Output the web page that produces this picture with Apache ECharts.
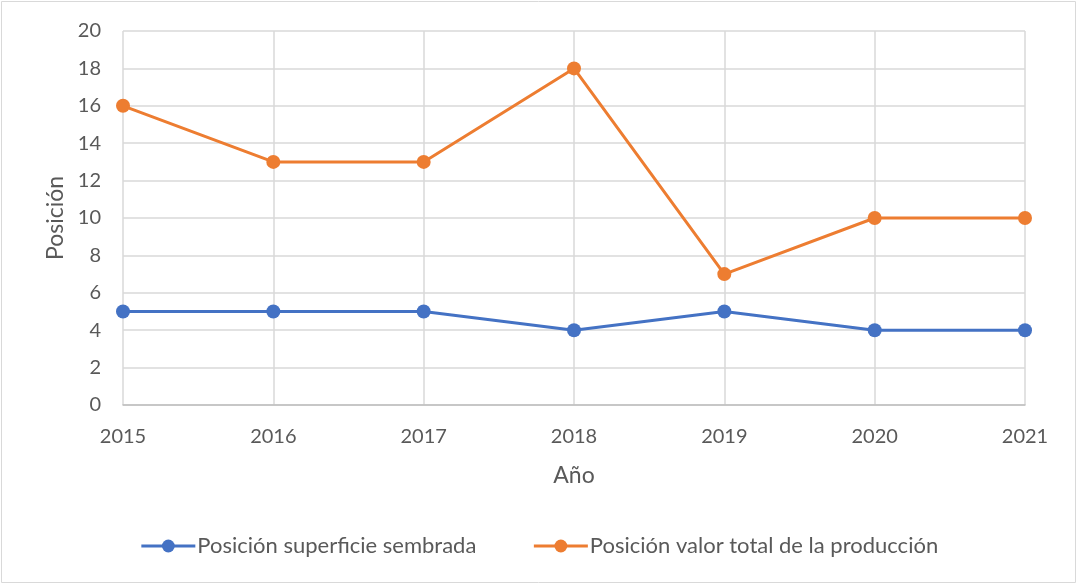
<!DOCTYPE html>
<html>
<head>
<meta charset="utf-8">
<script src="https://cdn.jsdelivr.net/npm/echarts@6/dist/echarts.min.js"></script>
<style>
  html, body { margin: 0; padding: 0; background: #fff; }
  #chart { width: 1078px; height: 586px; }
</style>
</head>
<body>
<div id="chart"></div>
<script>
const years = ['2015', '2016', '2017', '2018', '2019', '2020', '2021']
const superficie = [5, 5, 5, 4, 5, 4, 4]
const valorTotal = [16, 13, 13, 18, 7, 10, 10]
const seriesNames = ['Posición superficie sembrada', 'Posición valor total de la producción']

const font = 'Lato, "Open Sans", sans-serif'
const textColor = '#595959'

const chart = echarts.init(document.getElementById('chart'))

const lineSeries = (name, data, color) => ({
  name: name,
  type: 'line',
  data: data,
  symbol: 'circle',
  symbolSize: 14,
  color: color,
  lineStyle: { width: 3, color: color },
  itemStyle: { color: color },
})

chart.setOption({
  animation: false,
  textStyle: { fontFamily: font },
  graphic: [
    {
      type: 'rect',
      shape: { x: 1.5, y: 1.5, width: 1074, height: 581 },
      style: { fill: 'none', stroke: '#d9d9d9', lineWidth: 1 },
      silent: true,
    },
  ],
  grid: {
    left: 123,
    right: 53,
    top: 31,
    bottom: 181,
  },
  legend: {
    bottom: 24,
    left: 'center',
    itemWidth: 54,
    itemHeight: 16,
    itemGap: 56,
    lineStyle: { width: 3 },
    textStyle: { fontFamily: font, fontSize: 22, color: textColor, padding: [0, 0, 0, -3] },
    data: seriesNames,
  },
  xAxis: {
    type: 'category',
    data: years,
    boundaryGap: false,
    name: 'Año',
    nameLocation: 'middle',
    nameGap: 59,
    nameTextStyle: { fontFamily: font, fontSize: 23, color: textColor },
    axisLine: { lineStyle: { color: '#bfbfbf', width: 1.5 } },
    axisTick: { show: false },
    axisLabel: { fontFamily: font, fontSize: 20, color: textColor, margin: 22 },
    splitLine: { show: true, lineStyle: { color: '#d9d9d9', width: 1.5 } },
  },
  yAxis: {
    type: 'value',
    min: 0,
    max: 20,
    interval: 2,
    name: 'Posición',
    nameLocation: 'middle',
    nameGap: 56,
    nameTextStyle: { fontFamily: font, fontSize: 23, color: textColor },
    axisLine: { show: false },
    axisTick: { show: false },
    axisLabel: { fontFamily: font, fontSize: 20, color: textColor, margin: 22 },
    splitLine: { lineStyle: { color: '#d9d9d9', width: 1.5 } },
  },
  series: [
    lineSeries(seriesNames[0], superficie, '#4472C4'),
    lineSeries(seriesNames[1], valorTotal, '#ED7D31'),
  ],
})
</script>
</body>
</html>
